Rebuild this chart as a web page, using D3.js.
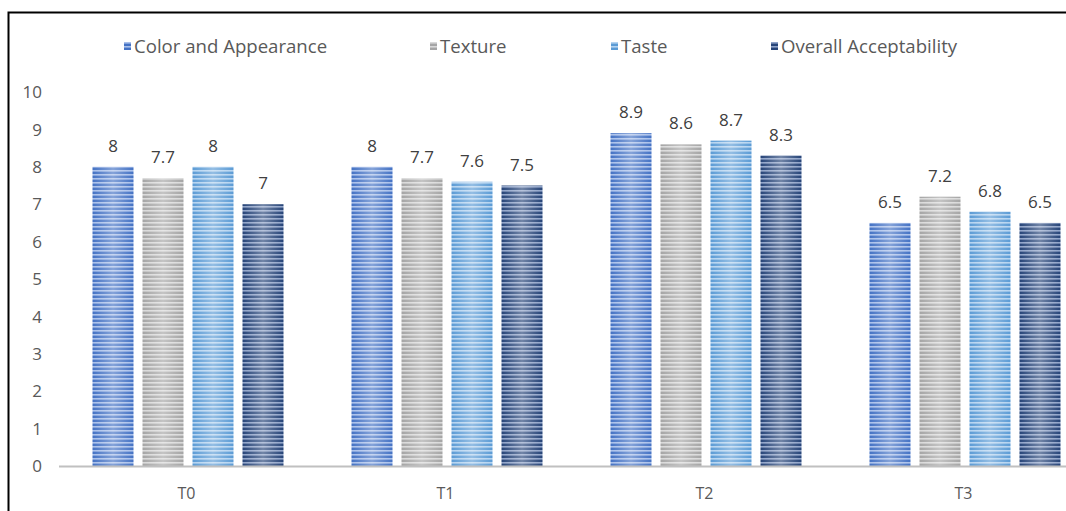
<!DOCTYPE html>
<html><head><meta charset="utf-8">
<script src="https://cdn.jsdelivr.net/npm/d3@7"></script>
<style>body{margin:0;background:#fff;overflow:hidden}svg{display:block}</style>
</head><body>
<script>
const categories = ["T0","T1","T2","T3"];
const seriesNames = ["Color and Appearance","Texture","Taste","Overall Acceptability"];
const colorAppearance = [8, 8, 8.9, 6.5];
const texture = [7.7, 7.7, 8.6, 7.2];
const taste = [8, 7.6, 8.7, 6.8];
const overall = [7, 7.5, 8.3, 6.5];
const yTicks = [0,1,2,3,4,5,6,7,8,9,10];
const seriesValues = [colorAppearance, texture, taste, overall];
const baseColors = ["#4472C4","#A5A5A5","#5B9BD5","#264478"];
const lightColors = ["#A9C0EA","#D9D9D9","#B4D3F0","#8FA3C8"];

const W = 1066, H = 511;
const svg = d3.select("body").append("svg").attr("width", W).attr("height", H);
const defs = svg.append("defs");
baseColors.forEach((c,i)=>{
  const p = defs.append("pattern").attr("id","pat"+i).attr("patternUnits","userSpaceOnUse")
    .attr("width",8).attr("height",4);
  p.append("rect").attr("width",8).attr("height",4).attr("fill",c);
  p.append("rect").attr("y",2).attr("width",8).attr("height",1.6).attr("fill",lightColors[i]);
});
const g = defs.append("linearGradient").attr("id","shine").attr("x1",0).attr("x2",1).attr("y1",0).attr("y2",0);
g.append("stop").attr("offset","0%").attr("stop-color","#fff").attr("stop-opacity",0);
g.append("stop").attr("offset","50%").attr("stop-color","#fff").attr("stop-opacity",0.35);
g.append("stop").attr("offset","100%").attr("stop-color","#fff").attr("stop-opacity",0);

// border
svg.append("path").attr("d",`M8.5,${H} L8.5,12.5 L${W},12.5`).attr("fill","none").attr("stroke","#000").attr("stroke-width",2);

const band = 259;
const x0 = d3.scaleBand().domain(categories).range([58.5, 58.5+4*band]);
const xs = d3.scaleBand().domain(d3.range(4)).range([0, 200]).paddingInner(0.18).paddingOuter(0.09);
const barW = xs.bandwidth();
const groupOffset = 34 - xs(0);
const y = d3.scaleLinear().domain([0,10]).range([466, 92]);

const font = "'Open Sans', 'Noto Sans', sans-serif";
const textColor = "#595959";

// y tick labels
svg.append("g").selectAll("text").data(yTicks).join("text")
  .attr("x", 42).attr("y", d=>y(d)).attr("dy","0.36em").attr("text-anchor","end")
  .attr("font-family",font).attr("font-size",17).attr("fill",textColor).text(d=>d);

categories.forEach((cat,ci)=>{
  const gx = x0(cat) + groupOffset;
  seriesValues.forEach((vals,si)=>{
    const bx = gx + xs(si);
    const v = vals[ci];
    svg.append("rect").attr("x",bx).attr("y",y(v)).attr("width",barW).attr("height",y(0)-y(v)).attr("fill",`url(#pat${si})`);
    svg.append("rect").attr("x",bx).attr("y",y(v)).attr("width",barW).attr("height",y(0)-y(v)).attr("fill","url(#shine)");
    svg.append("text").attr("x",bx+barW/2).attr("y",y(v)-15).attr("text-anchor","middle")
      .attr("font-family",font).attr("font-size",17).attr("fill","#404040").text(v);
  });
  svg.append("text").attr("x",x0(cat)+band/2 - 1.5).attr("y",499).attr("text-anchor","middle")
    .attr("font-family",font).attr("font-size",16).attr("fill",textColor).text(cat);
});

// axis line
svg.append("line").attr("x1",59).attr("x2",W).attr("y1",466.5).attr("y2",466.5).attr("stroke","#C0C0C0").attr("stroke-width",2);

// legend
const legX = [124, 430, 611, 771];
seriesNames.forEach((n,i)=>{
  svg.append("rect").attr("x",legX[i]).attr("y",42).attr("width",7).attr("height",8).attr("fill",`url(#pat${i})`);
  svg.append("text").attr("x",legX[i]+10).attr("y",46).attr("dy","0.36em")
    .attr("font-family",font).attr("font-size",18.6).attr("fill",textColor).text(n);
});
</script>
</body></html>
